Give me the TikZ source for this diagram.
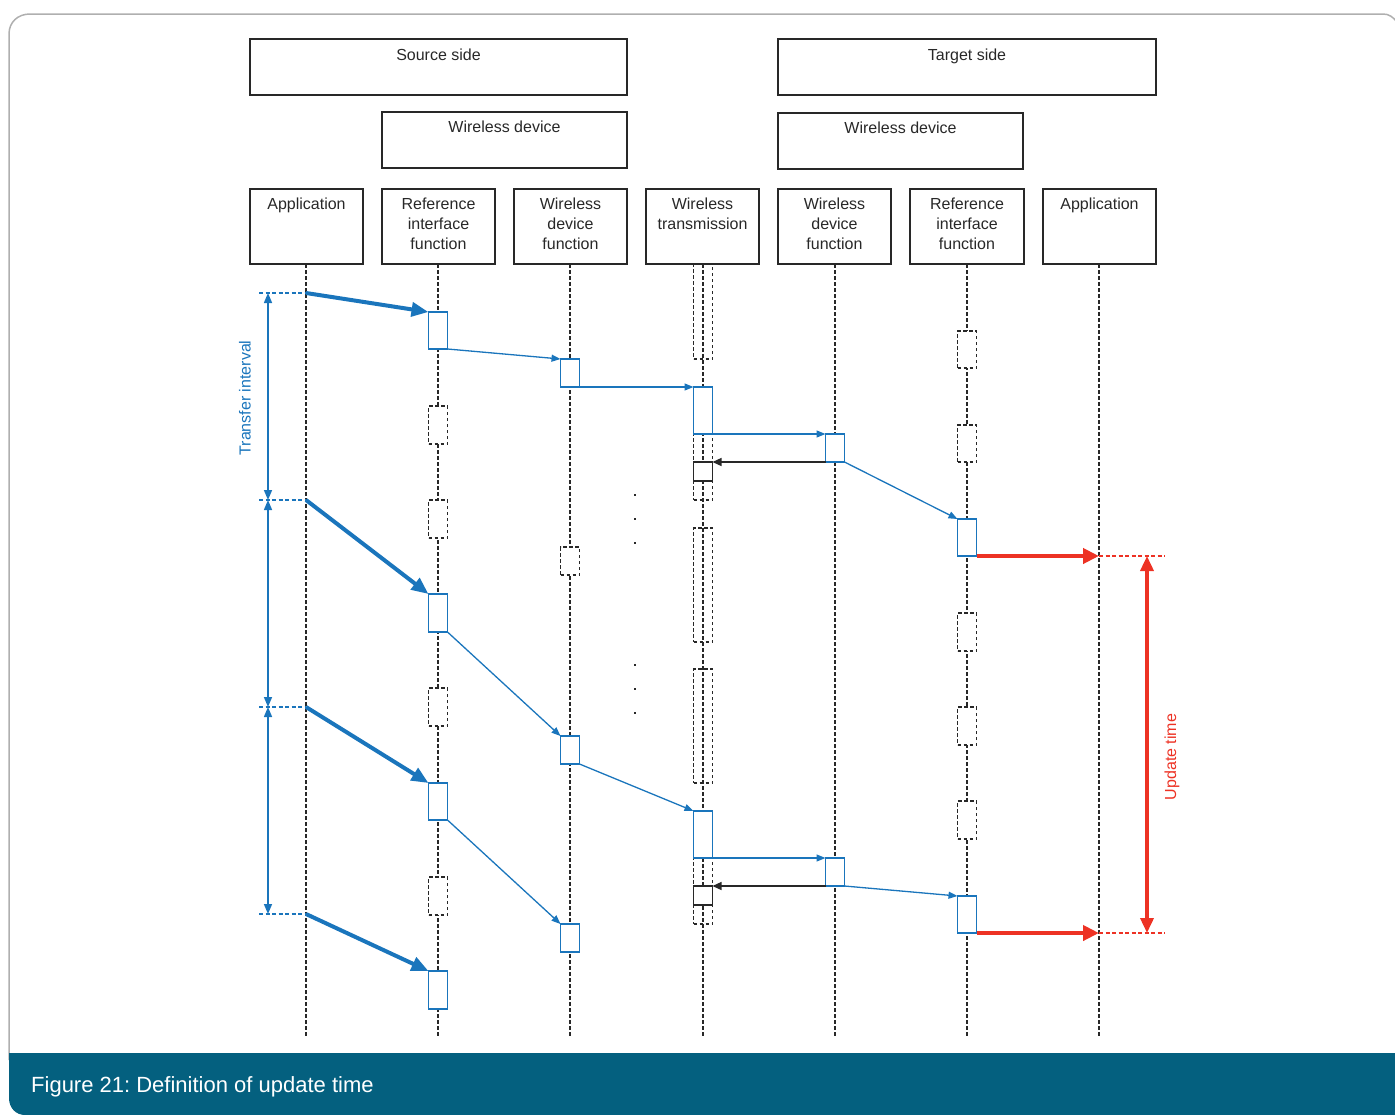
\documentclass[tikz,border=0pt]{standalone}
\usepackage{fontspec}
\setmainfont{Liberation Sans}
\usetikzlibrary{arrows.meta,calc}
\definecolor{bl}{RGB}{26,117,188}
\definecolor{rd}{RGB}{237,50,36}
\definecolor{teal}{RGB}{4,96,127}
\definecolor{framegray}{RGB}{175,175,175}
\definecolor{ink}{RGB}{40,40,40}
\frenchspacing
\begin{document}
\begin{tikzpicture}[x=1pt,y=-1pt,
  frame/.style={draw=ink, line width=1.4pt, inner sep=0, outer sep=0, anchor=north west},
  lbl/.style={font=\fontsize{16}{20}\selectfont, align=center, inner sep=0, text=ink},
  life/.style={draw=ink, line width=1.3pt, dash pattern=on 3.5pt off 2.5pt},
  act/.style={draw=bl, line width=1.7pt, fill=white, minimum width=19pt, inner sep=0, outer sep=0, anchor=north},
  blk/.style={draw=ink, line width=1.7pt, fill=white, minimum width=19pt, inner sep=0, outer sep=0, anchor=north},
  idle/.style={draw=ink, line width=1.5pt, dash pattern=on 3.5pt off 2.5pt, fill=white, minimum width=19pt, inner sep=0, outer sep=0, anchor=north},
  idlew/.style={draw=ink, line width=1.5pt, dash pattern=on 3.5pt off 2.5pt, minimum width=19pt, inner sep=0, outer sep=0, anchor=north},
  fat/.style={draw=bl, line width=4pt, -{Triangle[length=17pt,width=14pt]}},
  thin/.style={draw=bl, line width=1.3pt, -{Triangle[length=9pt,width=7pt]}},
  thinb/.style={draw=ink, line width=1.3pt, -{Triangle[length=9pt,width=8pt]}},
  redfat/.style={draw=rd, line width=4.5pt, -{Triangle[length=16pt,width=15pt]}},
  reddbl/.style={draw=rd, line width=3.5pt, {Triangle[length=15pt,width=13pt]}-{Triangle[length=15pt,width=13pt]}},
  bldbl/.style={draw=bl, line width=1.5pt, {Triangle[length=10pt,width=8pt]}-{Triangle[length=10pt,width=8pt]}},
  bldash/.style={draw=bl, line width=1.3pt, dash pattern=on 4pt off 2.5pt},
  reddash/.style={draw=rd, line width=1.3pt, dash pattern=on 4pt off 2.5pt},
  dot/.style={fill=ink, minimum size=2.5pt, inner sep=0}
]
\useasboundingbox (0,0) rectangle (1395,1114);
% outer frame
\draw[framegray, line width=1.5pt] (9,1060) -- (9,34) .. controls (9,22) and (18,14) .. (30,14) -- (1383,14) .. controls (1389,14) and (1393,17) .. (1397,22);
\fill[teal] (9,1053) -- (1400,1053) -- (1400,1115) -- (25,1115) .. controls (16,1115) and (9,1108) .. (9,1098) -- cycle;
\node[font=\fontsize{22}{26}\selectfont, text=white, anchor=base west, inner sep=0] (caption) at (31,1092) {Figure 21: Definition of update time};

% header boxes
\node[frame, minimum width=377pt, minimum height=56pt] (src) at (250,39) {};
\node[lbl, anchor=north] (srct) at ($(src.north)+(0,10)$) {Source side};
\node[frame, minimum width=378pt, minimum height=56pt] (tgt) at (778,39) {};
\node[lbl, anchor=north] (tgtt) at ($(tgt.north)+(0,10)$) {Target side};
\node[frame, minimum width=245pt, minimum height=56pt] (wds) at (382,112) {};
\node[lbl, anchor=north] (wdst) at ($(wds.north)+(0,9)$) {Wireless device};
\node[frame, minimum width=245pt, minimum height=56pt] (wdt) at (778,113) {};
\node[lbl, anchor=north] (wdtt) at ($(wdt.north)+(0,9)$) {Wireless device};

% column boxes
\foreach \nm/\x/\w/\txt in {c1/250/113/Application, c2/382/113/{Reference\\interface\\function}, c3/514/113/{Wireless\\device\\function}, c4/646/113/{Wireless\\transmission}, c5/778/113/{Wireless\\device\\function}, c6/910/114/{Reference\\interface\\function}, c7/1043/113/Application}{
  \node[frame, minimum width=\w pt, minimum height=75pt] (\nm) at (\x,189) {};
  \node[lbl, anchor=north] (\nm t) at ($(\nm.north)+(0,9)$) {\txt};
}

% lifelines
\foreach \nm/\x in {c1/306, c2/438, c3/570, c4/703, c5/835, c6/967, c7/1099}{
  \coordinate (\nm e) at (\x,1037);
  \draw[life] (\nm.south -| \nm e) -- (\nm e);
}

% wireless transmission dashed frames
\node[idlew, minimum height=95pt] (t0) at (703,264) {};
\node[idlew, minimum height=66pt] (t1) at (703,434) {};
\node[idlew, minimum height=114pt] (t2) at (703,528) {};
\node[idlew, minimum height=114pt] (t3) at (703,669) {};
\node[idlew, minimum height=66pt] (t4) at (703,858) {};

% source reference interface column
\node[act, minimum height=37pt] (r1) at (438,312) {};
\node[idle, minimum height=38pt] (ri1) at (438,406) {};
\node[idle, minimum height=38pt] (ri2) at (438,500) {};
\node[act, minimum height=38pt] (r2) at (438,594) {};
\node[idle, minimum height=38pt] (ri3) at (438,688) {};
\node[act, minimum height=37pt] (r3) at (438,783) {};
\node[idle, minimum height=38pt] (ri4) at (438,877) {};
\node[act, minimum height=38pt] (r4) at (438,971) {};

% source wireless device function column
\node[act, minimum height=28pt] (w1) at (570,359) {};
\node[idle, minimum height=28pt] (wi1) at (570,547) {};
\node[act, minimum height=28pt] (w2) at (570,736) {};
\node[act, minimum height=28pt] (w3) at (570,924) {};

% wireless transmission
\node[act, minimum height=47pt] (x1) at (703,387) {};
\node[blk, minimum height=19pt] (k1) at (703,462) {};
\node[act, minimum height=47pt] (x2) at (703,811) {};
\node[blk, minimum height=19pt] (k2) at (703,886) {};

% target wireless device function
\node[act, minimum height=28pt] (v1) at (835,434) {};
\node[act, minimum height=28pt] (v2) at (835,858) {};

% target reference interface column
\node[idle, minimum height=37pt] (qi1) at (967,331) {};
\node[idle, minimum height=37pt] (qi2) at (967,425) {};
\node[act, minimum height=37pt] (q1) at (967,519) {};
\node[idle, minimum height=38pt] (qi3) at (967,613) {};
\node[idle, minimum height=38pt] (qi4) at (967,707) {};
\node[idle, minimum height=38pt] (qi5) at (967,801) {};
\node[act, minimum height=37pt] (q2) at (967,896) {};

% dots
\foreach \i/\y in {1/495, 2/519, 3/543, 4/665, 5/689, 6/713}{
  \node[dot] (dt\i) at (635,\y) {};
}

% transfer interval markers
\foreach \i/\y in {1/293, 2/500, 3/707, 4/914}{
  \coordinate (a\i) at (306,\y);
  \coordinate (d\i) at (259,\y);
  \coordinate (m\i) at (268,\y);
  \draw[bldash] (d\i) -- (a\i);
}
\draw[bldbl] (m1) -- (m2);
\draw[bldbl] (m2) -- (m3);
\draw[bldbl] (m3) -- (m4);
\node[lbl, text=bl, rotate=90] (tlab) at (245,398) {Transfer interval};

% thick application arrows
\draw[fat] (a1) -- (r1.north west);
\draw[fat] (a2) -- (r2.north west);
\draw[fat] (a3) -- (r3.north west);
\draw[fat] (a4) -- (r4.north west);

% thin message arrows
\draw[thin] (r1.south east) -- (w1.north west);
\draw[thin] (w1.south east) -- (x1.north west);
\draw[thin] (x1.south east) -- (v1.north west);
\draw[thinb] (v1.south west) -- (k1.north east);
\draw[thin] (v1.south east) -- (q1.north west);
\draw[thin] (r2.south east) -- (w2.north west);
\draw[thin] (w2.south east) -- (x2.north west);
\draw[thin] (x2.south east) -- (v2.north west);
\draw[thinb] (v2.south west) -- (k2.north east);
\draw[thin] (v2.south east) -- (q2.north west);
\draw[thin] (r3.south east) -- (w3.north west);

% update time
\coordinate (u1) at (1099,556);
\coordinate (u2) at (1099,933);
\coordinate (ue1) at (1165,556);
\coordinate (ue2) at (1165,933);
\coordinate (uv1) at (1147,556);
\coordinate (uv2) at (1147,933);
\draw[reddash] (u1) -- (ue1);
\draw[reddash] (u2) -- (ue2);
\draw[redfat] (q1.south east) -- (u1);
\draw[redfat] (q2.south east) -- (u2);
\draw[reddbl] (uv1) -- (uv2);
\node[lbl, text=rd, rotate=90] (ulab) at (1172,757) {Update time};
\end{tikzpicture}
\end{document}
